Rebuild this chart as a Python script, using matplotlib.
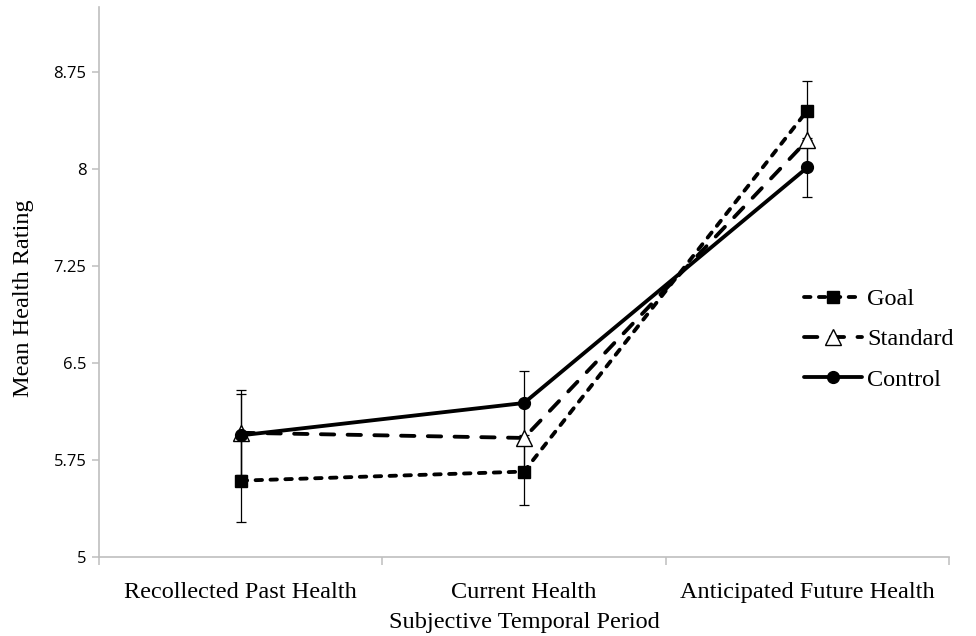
import matplotlib
matplotlib.use("Agg")
import matplotlib.pyplot as plt
import numpy as np

# data
categories = ["Recollected Past Health", "Current Health", "Anticipated Future Health"]
goal = [5.59, 5.66, 8.45]
goal_err = [0.32, 0.26, 0.225]
standard = [5.96, 5.92, 8.22]
standard_err = [0.33, 0.26, 0.22]
control = [5.94, 6.19, 8.01]
control_err = [0.32, 0.25, 0.225]
yticks = [5, 5.75, 6.5, 7.25, 8, 8.75]
ytick_labels = ["5", "5.75", "6.5", "7.25", "8", "8.75"]

serif = ["Liberation Serif", "DejaVu Serif"]
sans = ["Open Sans", "DejaVu Sans"]

fig = plt.figure(figsize=(9.76, 6.36), dpi=100)
ax = fig.add_axes([99 / 976, 1 - 557 / 636, (949 - 99) / 976, (557 - 7) / 636])

x = np.arange(len(categories))

# error bars first, thin
for vals, errs in [(goal, goal_err), (standard, standard_err), (control, control_err)]:
    ax.errorbar(x, vals, yerr=errs, fmt="none", ecolor="black", elinewidth=0.9,
                capsize=3.8, capthick=0.9, zorder=2)

ax.plot(x, goal, color="black", lw=2.75, dashes=(1.7, 2.2), dash_capstyle="round",
        marker="s", markersize=8.5, markerfacecolor="black", markeredgecolor="black",
        label="Goal", zorder=3)
ax.plot(x, standard, color="black", lw=2.75, dashes=(3.5, 3.5), dash_capstyle="round",
        marker="^", markersize=11, markerfacecolor="white", markeredgecolor="black",
        markeredgewidth=1.0, label="Standard", zorder=4)
ax.plot(x, control, color="black", lw=2.75, solid_capstyle="round",
        marker="o", markersize=8.5, markerfacecolor="black", markeredgecolor="black",
        label="Control", zorder=5)

ax.set_xlim(-0.5, 2.5)
ax.set_ylim(5, 9.25)
ax.set_yticks(yticks)
ax.set_yticklabels(ytick_labels, fontfamily=sans, fontsize=12)
ax.set_xticks(x)
ax.set_xticklabels(categories, fontfamily=serif, fontsize=17.5)
ax.set_xticks([-0.5, 0.5, 1.5, 2.5], minor=True)
ax.tick_params(axis="x", which="major", length=0, pad=18)
ax.tick_params(axis="x", which="minor", length=6, color="#bfbfbf", width=1.1)
ax.tick_params(axis="y", length=5, color="#bfbfbf", width=1.1, pad=4)

for side in ["top", "right"]:
    ax.spines[side].set_visible(False)
for side in ["left", "bottom"]:
    ax.spines[side].set_color("#bfbfbf")
    ax.spines[side].set_linewidth(1.2)

ax.set_xlabel("Subjective Temporal Period", fontfamily=serif, fontsize=17.5)
ax.xaxis.set_label_coords(0.5, (557 - 612) / 550)
ax.set_ylabel("Mean Health Rating", fontfamily=serif, fontsize=17.5)
ax.yaxis.set_label_coords(-0.077, 0.47)

leg = ax.legend(loc="upper left", bbox_to_anchor=(804 / 976, 1 - 288 / 636),
                bbox_transform=fig.transFigure, frameon=False, prop={"family": serif, "size": 17.5},
                handlelength=2.4, handletextpad=0.2, labelspacing=0.75,
                borderpad=0, borderaxespad=0)

fig.savefig("out.png", dpi=100)
